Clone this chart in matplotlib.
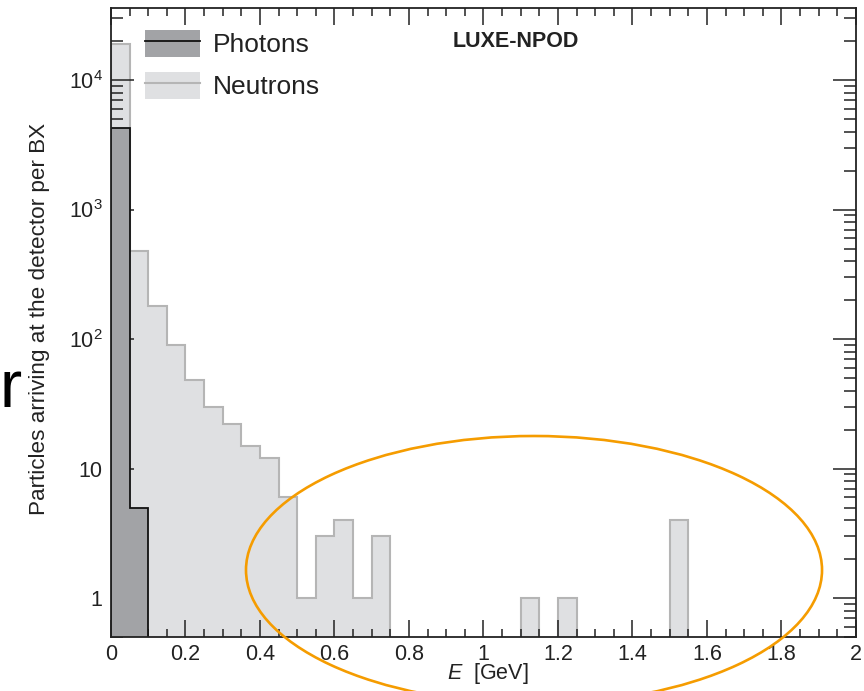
import numpy as np
import matplotlib
matplotlib.use('Agg')
import matplotlib.pyplot as plt
from matplotlib.patches import Patch, Ellipse
from matplotlib.lines import Line2D
from matplotlib.ticker import FixedLocator, FixedFormatter, MultipleLocator, NullFormatter

plt.rcParams['font.family'] = ['Liberation Sans', 'DejaVu Sans']
plt.rcParams['mathtext.fontset'] = 'custom'
plt.rcParams['mathtext.rm'] = 'Liberation Sans'
plt.rcParams['mathtext.it'] = 'Liberation Sans:italic'

# ---- data ----
bin_width = 0.05
n_bins = 40
neutrons = [19000, 480, 180, 90, 48, 30, 22, 15, 12, 6,
            1, 3, 4, 1, 3, 0, 0, 0, 0, 0,
            0, 0, 1, 0, 1, 0, 0, 0, 0, 0,
            4, 0, 0, 0, 0, 0, 0, 0, 0, 0]
photons = [4250, 5, 0, 0, 0, 0, 0, 0, 0, 0,
           0, 0, 0, 0, 0, 0, 0, 0, 0, 0,
           0, 0, 0, 0, 0, 0, 0, 0, 0, 0,
           0, 0, 0, 0, 0, 0, 0, 0, 0, 0]
x_ticks = [0, 0.2, 0.4, 0.6, 0.8, 1, 1.2, 1.4, 1.6, 1.8, 2]
x_tick_labels = ['0', '0.2', '0.4', '0.6', '0.8', '1', '1.2', '1.4', '1.6', '1.8', '2']
y_ticks = [1, 10, 100, 1000, 10000]
y_tick_labels = ['1', '10', r'$10^2$', r'$10^3$', r'$10^4$']
series_labels = ['Photons', 'Neutrons']

photon_fill = '#a2a3a6'
photon_edge = '#111111'
neutron_fill = '#dfe0e2'
neutron_edge = '#b5b5b5'

edges = np.arange(n_bins + 1) * bin_width
floor = 1e-3

fig = plt.figure(figsize=(8.64, 6.91), dpi=100)
ax = fig.add_axes([0.12847, 0.07815, 0.86227, 0.91027])
ax.set_yscale('log')

nv = np.array(neutrons, dtype=float)
pv = np.array(photons, dtype=float)
ax.stairs(np.where(nv > 0, nv, floor), edges, baseline=floor, fill=True,
          facecolor=neutron_fill, edgecolor=neutron_edge, linewidth=1.5, zorder=1)
ax.stairs(np.where(pv > 0, pv, floor), edges, baseline=floor, fill=True,
          facecolor=photon_fill, edgecolor=photon_edge, linewidth=1.3, zorder=2)

ax.set_xlim(0, 2)
ax.set_ylim(0.5, 3.6e4)

ax.xaxis.set_major_locator(FixedLocator(x_ticks))
ax.xaxis.set_major_formatter(FixedFormatter(x_tick_labels))
ax.xaxis.set_minor_locator(MultipleLocator(0.05))
ax.yaxis.set_major_locator(FixedLocator(y_ticks))
ax.yaxis.set_major_formatter(FixedFormatter(y_tick_labels))
minor_y = [m * 10.0 ** e for e in range(-1, 5) for m in range(2, 10)]
ax.yaxis.set_minor_locator(FixedLocator(minor_y))
ax.yaxis.set_minor_formatter(NullFormatter())

ax.tick_params(which='both', direction='in', top=True, right=True, width=1.1,
               color='#222222', labelsize=15.5, labelcolor='#222222')
ax.tick_params(axis='x', which='major', length=12, pad=5)
ax.tick_params(axis='x', which='minor', length=6)
ax.tick_params(axis='y', which='major', length=16.5, pad=6)
ax.tick_params(axis='y', which='minor', length=8.5)
for s in ax.spines.values():
    s.set_linewidth(1.3)
    s.set_color('#222222')
    s.set_zorder(5)

ax.set_xlabel(r'$E$  [GeV]', fontsize=15.5, color='#222222')
ax.xaxis.label.set_verticalalignment('baseline')
ax.xaxis.set_label_coords(0.506, -0.067)
ax.set_ylabel('Particles arriving at the detector per BX', fontsize=16.2, color='#222222')
ax.yaxis.set_label_coords(-0.082, 0.506)

ax.text(0.544, 0.938, 'LUXE-NPOD', transform=ax.transAxes, ha='center', va='baseline',
        fontsize=15.5, fontweight='bold', color='#222222')

handles = [(Patch(facecolor=photon_fill, edgecolor='none'), Line2D([], [], color=photon_edge, lw=1.3)),
           (Patch(facecolor=neutron_fill, edgecolor='none'), Line2D([], [], color=neutron_edge, lw=1.5))]
ax.legend(handles, series_labels, loc='upper left', bbox_to_anchor=(0.0456, 0.965),
          frameon=False, fontsize=19, handlelength=2.08, handleheight=1.2,
          handletextpad=0.5, labelspacing=0.55, borderpad=0, borderaxespad=0,
          labelcolor='#222222')

ell = Ellipse((0.5678, 0.1065), 0.7732, 0.4261, transform=ax.transAxes, fill=False,
              edgecolor='#f59c00', linewidth=1.9, clip_on=False, zorder=10)
ax.add_patch(ell)

fig.text(0.0, 284 / 691, 'r', fontsize=48, ha='left', va='baseline', color='black')

fig.savefig('out.png', dpi=100)
